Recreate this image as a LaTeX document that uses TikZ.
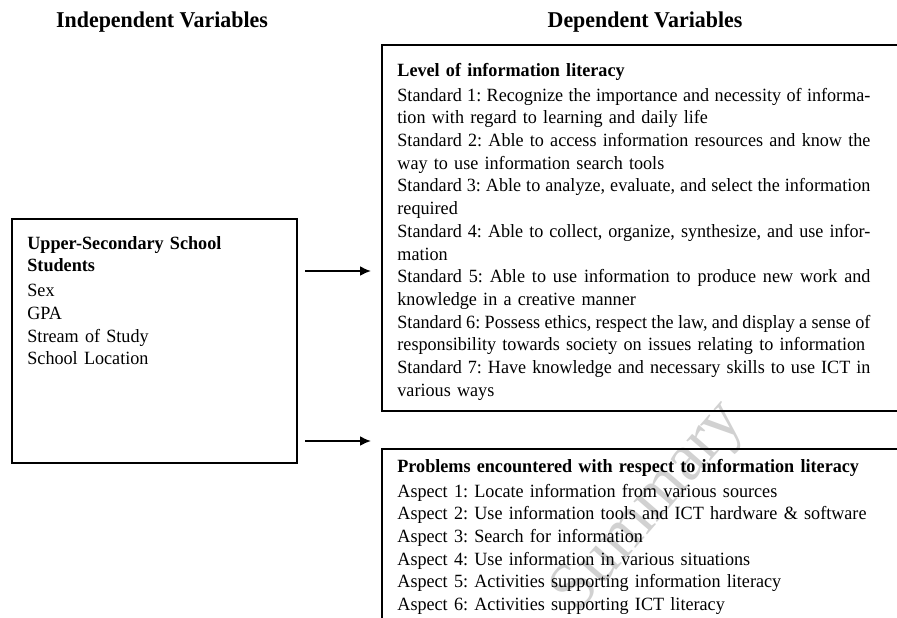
\documentclass[tikz,border=0pt]{standalone}
\usepackage{fontspec}
\setmainfont{Liberation Serif}[FakeStretch=0.97]
\usetikzlibrary{arrows.meta}
\frenchspacing
\newlength{\jwidth}
\setlength{\jwidth}{236.5pt}
\newcommand{\jline}[1]{\makebox[\jwidth][s]{\spaceskip=0.25em plus 0.3em minus 0.16em #1}\\}

\begin{document}
\begin{tikzpicture}[x=0.5pt, y=-0.5pt,
    box/.style={draw, line width=1pt, inner sep=0pt, outer sep=0pt, anchor=north west},
    flow/.style={line width=1pt, -{Latex[length=5.5pt, width=5pt]}, shorten <=4pt, shorten >=5.5pt},
    head/.style={font=\fontsize{11.3pt}{13pt}\selectfont\bfseries, anchor=base},
    txt/.style={font=\fontsize{9.35pt}{11.35pt}\selectfont, inner sep=0pt, anchor=base west, align=left}]

  \useasboundingbox (0,0) rectangle (897,617);
  \clip (0,0) rectangle (897,617);

  % Watermark
  \node[text=black!18, font=\fontsize{34pt}{40pt}\selectfont, rotate=49] (wmark) at (650,508) {Summary};

  % Column headings
  \node[head] (ivhead) at (162,27) {Independent Variables};
  \node[head] (dvhead) at (645,27) {Dependent Variables};

  % Boxes
  \node[box, minimum width=142.5pt, minimum height=122pt] (ivbox) at (12,219) {};
  \node[box, minimum width=289pt, minimum height=183pt] (dvtop) at (382,45) {};
  \node[box, minimum width=289pt, minimum height=200pt] (dvbot) at (382,449) {};

  % Independent variables
  \node[txt, text width=130pt] (ivtext) at (27,249) {\textbf{Upper-Secondary School}\\
    \textbf{Students}\\[1.2pt]
    Sex\\
    GPA\\
    Stream of Study\\
    School Location};

  % Level of information literacy
  \node[txt, text width=260pt] (dvtoptext) at (397,76) {\textbf{Level of information literacy}\\[1.2pt]
    \jline{Standard 1: Recognize the importance and necessity of informa-}
    tion with regard to learning and daily life\\
    \jline{Standard 2: Able to access information resources and know the}
    way to use information search tools\\
    \jline{Standard 3: Able to analyze, evaluate, and select the information}
    required\\
    \jline{Standard 4: Able to collect, organize, synthesize, and use infor-}
    mation\\
    \jline{Standard 5: Able to use information to produce new work and}
    knowledge in a creative manner\\
    \jline{Standard 6: Possess ethics, respect the law, and display a sense of}
    responsibility towards society on issues relating to information\\
    \jline{Standard 7: Have knowledge and necessary skills to use ICT in}
    various ways};

  % Problems encountered
  \node[txt, text width=260pt] (dvbottext) at (397,472) {\textbf{Problems encountered with respect to information literacy}\\[1.2pt]
    Aspect 1: Locate information from various sources\\
    Aspect 2: Use information tools and ICT hardware \& software\\
    Aspect 3: Search for information\\
    Aspect 4: Use information in various situations\\
    Aspect 5: Activities supporting information literacy\\
    Aspect 6: Activities supporting ICT literacy};

  % Arrows
  \draw[flow] (ivbox.east |- 0,271) -- (dvtop.west |- 0,271);
  \draw[flow] (ivbox.east |- 0,441) -- (dvbot.west |- 0,441);

\end{tikzpicture}
\end{document}
